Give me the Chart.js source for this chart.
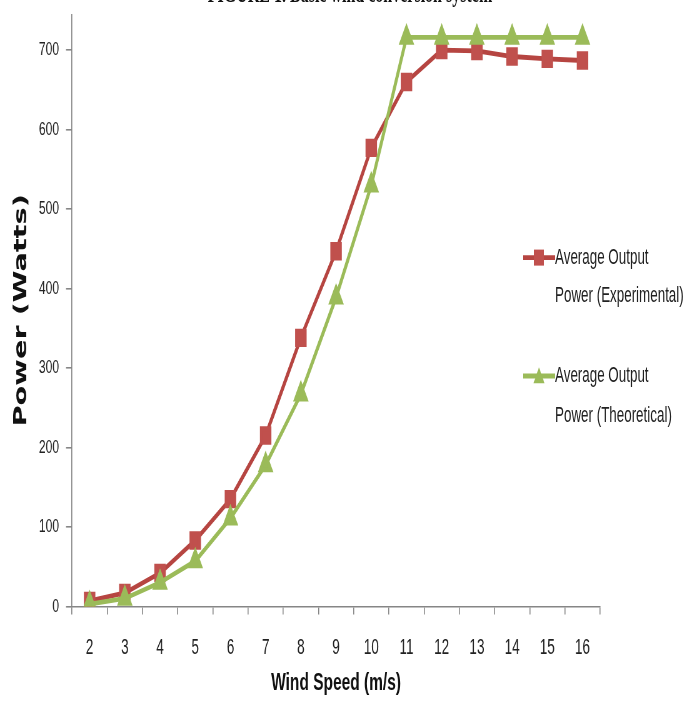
<!DOCTYPE html>
<html>
<head>
<meta charset="utf-8">
<title>Wind Speed vs Power</title>
<script src="https://cdn.jsdelivr.net/npm/chart.js@4.4.1/dist/chart.umd.min.js"></script>
<style>
  html, body { margin: 0; padding: 0; background: #fff; overflow: hidden; }
  #page { position: relative; width: 687px; height: 720px; overflow: hidden; }
  /* the reference picture is stretched vertically, so the whole stage is too */
  #stage { position: absolute; left: 0; top: 0; width: 687px; height: 450px; transform: scaleY(1.6); transform-origin: 0 0; }
  #chartBox { position: absolute; left: 0; top: 0; width: 687px; height: 450px; }
  #figTitle { position: absolute; left: 0; width: 700px; top: -14px; text-align: center;
    font: bold 16px "Liberation Serif", serif; line-height: 20px; color: #111; white-space: nowrap; }
  .legend-item { position: absolute; left: 523px; }
  .legend-item svg { position: absolute; left: 0; top: 6px; }
  .legend-item .txt { position: absolute; left: 32px; top: 0; white-space: nowrap;
    font: 13.4px "Liberation Sans", sans-serif; line-height: 24.6px; color: #222; }
</style>
</head>
<body>
<div id="page">
<div id="stage">
  <div id="figTitle">FIGURE 1. Basic wind conversion system</div>
  <div id="chartBox"><canvas id="powerChart" width="687" height="450"></canvas></div>
  <div id="legend"></div>
</div>
</div>
<script>
// data
const windSpeed = ["2", "3", "4", "5", "6", "7", "8", "9", "10", "11", "12", "13", "14", "15", "16"];
const experimental = [7, 17, 42, 83, 135, 215, 338, 447, 577, 660, 700, 699, 692, 689, 687];
const theoretical = [3, 10, 30, 57, 111, 178, 267, 389, 530, 716, 716, 716, 716, 716, 716];
const powerTicks = [0, 100, 200, 300, 400, 500, 600, 700];
const legendLines = [
  ["Average Output", "Power (Experimental)"],
  ["Average Output", "Power (Theoretical)"]
];

const red = "#C0504D";
const redLine = "#B64541";
const green = "#9BBB59";
const axisGray = "#868686";

const ctx = document.getElementById("powerChart").getContext("2d");
new Chart(ctx, {
  type: "line",
  data: {
    labels: windSpeed,
    datasets: [
      {
        label: legendLines[0].join(" "),
        data: experimental,
        borderColor: redLine,
        backgroundColor: red,
        pointBackgroundColor: red,
        pointBorderColor: red,
        pointStyle: "rect",
        pointRadius: 6,
        borderWidth: 3,
        tension: 0,
        order: 1
      },
      {
        label: legendLines[1].join(" "),
        data: theoretical,
        borderColor: green,
        backgroundColor: green,
        pointBackgroundColor: green,
        pointBorderColor: green,
        pointStyle: "triangle",
        pointRadius: 6,
        borderWidth: 3,
        tension: 0,
        order: 0
      }
    ]
  },
  options: {
    responsive: false,
    animation: false,
    devicePixelRatio: 1.6,
    layout: { padding: { top: 4, left: 0, right: 87, bottom: 0 } },
    plugins: { legend: { display: false }, tooltip: { enabled: false } },
    scales: {
      x: {
        offset: true,
        grid: { offset: true, drawOnChartArea: false, tickLength: 5, color: axisGray },
        border: { color: axisGray },
        ticks: { padding: 13, color: "#222", font: { family: "Liberation Sans", size: 13.5 } },
        title: {
          display: true,
          text: "Wind Speed (m/s)",
          color: "#111",
          font: { family: "Liberation Sans", size: 15.5, weight: "bold" },
          padding: { top: 0, bottom: 14 }
        },
        afterFit(scale) { scale.height = 71; scale.paddingLeft = 0; scale.paddingRight = 0; }
      },
      y: {
        min: 0,
        max: 745,
        afterBuildTicks(scale) { scale.ticks = powerTicks.map(v => ({ value: v })); },
        grid: { drawOnChartArea: false, tickLength: 6, color: axisGray },
        border: { color: axisGray },
        ticks: { padding: 7, color: "#222", font: { family: "Liberation Sans", size: 12 } },
        title: {
          display: true,
          text: "Power (Watts)",
          color: "#111",
          font: { family: "DejaVu Sans", size: 18, weight: "bold" },
          padding: { top: 11, bottom: 0 }
        },
        afterFit(scale) { scale.width = 72; scale.paddingTop = 0; scale.paddingBottom = 0; }
      }
    }
  }
});

// legend drawn beside the plot, over its right part
const legendTops = [148.7, 223.3];
const markers = [
  '<rect x="11" y="1" width="10" height="10" fill="' + red + '"/>',
  '<polygon points="16,0.5 21.5,10.5 10.5,10.5" fill="' + green + '"/>'
];
const lineColors = [redLine, green];
const legendEl = document.getElementById("legend");
legendLines.forEach((lines, i) => {
  const item = document.createElement("div");
  item.className = "legend-item";
  item.style.top = legendTops[i] + "px";
  item.innerHTML =
    '<svg width="32" height="12" viewBox="0 0 32 12">' +
    '<line x1="0" y1="6" x2="32" y2="6" stroke="' + lineColors[i] + '" stroke-width="3"/>' +
    markers[i] + '</svg>' +
    '<div class="txt">' + lines.join("<br>") + '</div>';
  legendEl.appendChild(item);
});
</script>
</body>
</html>
